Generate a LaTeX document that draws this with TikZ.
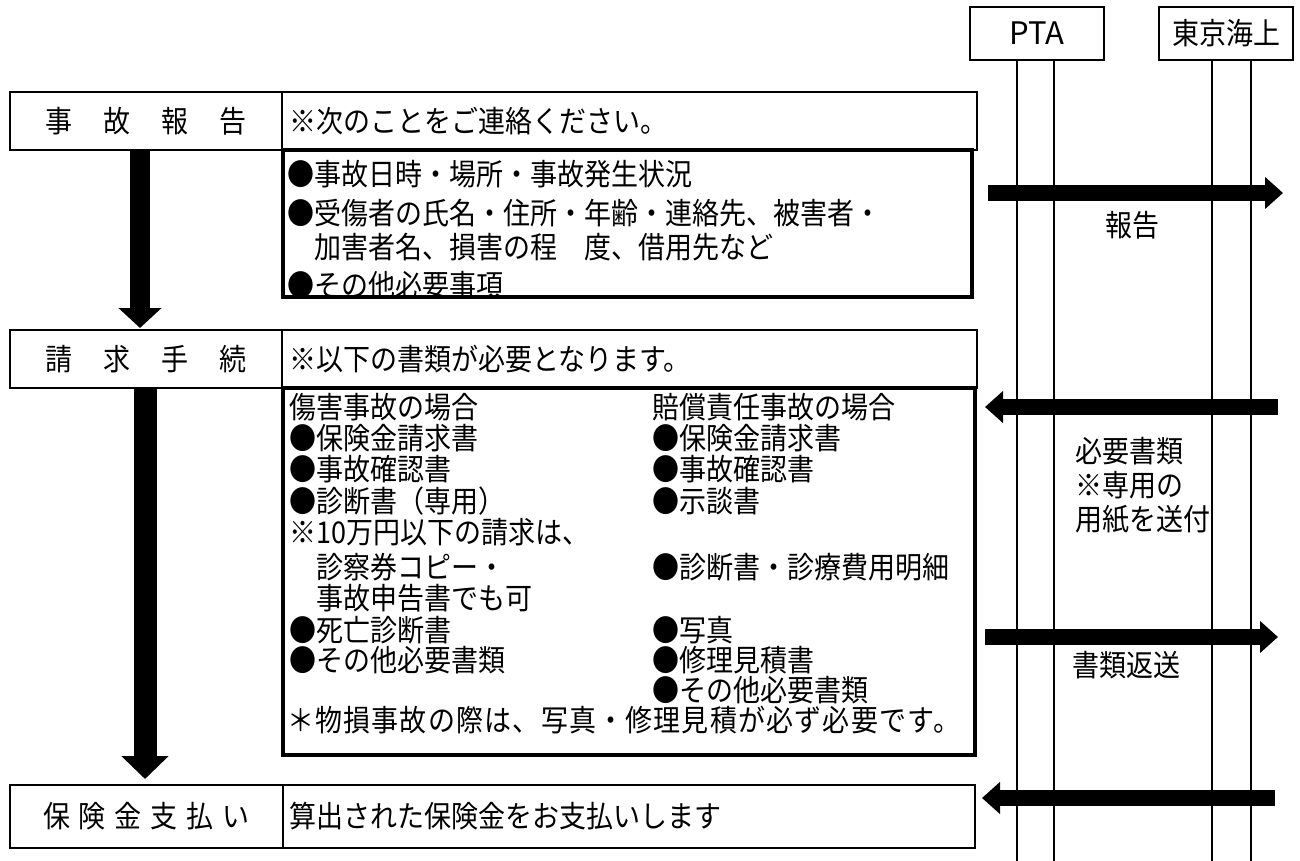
\documentclass[tikz,border=0pt]{standalone}
\usepackage{fontspec}
\setmainfont{Noto Sans CJK JP}[FakeStretch=0.9]
\newfontfamily\latinfont{Noto Sans CJK JP}
\usetikzlibrary{arrows.meta}
\newcommand\bul{\makebox[0.9em][l]{\addfontfeature{CharacterWidth=Full}●}}
\tikzset{
  box/.style={draw, line width=1.8pt, inner sep=0pt},
  thickbox/.style={draw, line width=3.5pt, inner sep=0pt},
  txt/.style={anchor=west, inner sep=0pt, font=\fontsize{30}{34}\selectfont},
  ctxt/.style={inner sep=0pt, font=\fontsize{30}{34}\selectfont},
  flowA/.style={line width=20pt, -{Triangle[width=42pt,length=20pt]}},
  flowB/.style={line width=23pt, -{Triangle[width=46pt,length=23pt]}},
  msg/.style={line width=16pt, -{Triangle[width=31pt,length=18pt]}},
  life/.style={line width=1.8pt},
}
\begin{document}
\begin{tikzpicture}[x=1pt,y=-1pt]
\useasboundingbox (0,0) rectangle (1300,861);

% ---- actors
\node[box, minimum width=134pt, minimum height=53pt, inner sep=0pt, font=\latinfont\fontsize{31}{34}\selectfont] (pta) at (1037,33.5) {PTA};
\node[box, minimum width=134pt, minimum height=53pt, ctxt] (tm) at (1226,33.5) {東京海上};
\coordinate (l1) at (1017,861);
\coordinate (l2) at (1054,861);
\coordinate (l3) at (1212,861);
\coordinate (l4) at (1251,861);
\draw[life] (pta.south -| l1) -- (l1);
\draw[life] (pta.south -| l2) -- (l2);
\draw[life] (tm.south -| l3) -- (l3);
\draw[life] (tm.south -| l4) -- (l4);

% ---- row 1
\node[box, minimum width=272pt, minimum height=58pt, ctxt] (t1) at (146,121)
  {事\hspace{31pt}故\hspace{31pt}報\hspace{31pt}告};
\node[box, minimum width=695pt, minimum height=58pt] (h1) at (629.5,121) {};
\node[txt] (h1t) at (289,121) {※次のことをご連絡ください。};
\node[thickbox, minimum width=689pt, minimum height=147pt] (c1) at (627.5,223.5) {};
\node[txt] (c1a) at (287,174) {\bul 事故日時・場所・事故発生状況};
\node[txt] (c1b) at (287,213) {\bul 受傷者の氏名・住所・年齢・連絡先、被害者・};
\node[txt] (c1c) at (287,247) {　加害者名、損害の程　度、借用先など};
\node[txt] (c1d) at (287,285) {\bul その他必要事項};

% ---- row 2
\node[box, minimum width=272pt, minimum height=58pt, ctxt] (t2) at (146,359)
  {請\hspace{31pt}求\hspace{31pt}手\hspace{31pt}続};
\node[box, minimum width=695pt, minimum height=58pt] (h2) at (629.5,359) {};
\node[txt] (h2t) at (289,359) {※以下の書類が必要となります。};
\node[thickbox, minimum width=692pt, minimum height=367pt] (c2) at (629,571.5) {};
\node[txt] (L1) at (289,407) {傷害事故の場合};
\node[txt] (L2) at (289,438) {\bul 保険金請求書};
\node[txt] (L3) at (289,469) {\bul 事故確認書};
\node[txt] (L4) at (289,501) {\bul 診断書（専用）};
\node[txt] (L5) at (289,532) {※10万円以下の請求は、};
\node[txt] (L6) at (289,567) {　診察券コピー・};
\node[txt] (L7) at (289,598) {　事故申告書でも可};
\node[txt] (L8) at (289,630) {\bul 死亡診断書};
\node[txt] (L9) at (289,660) {\bul その他必要書類};
\node[txt] (R1) at (652,407) {賠償責任事故の場合};
\node[txt] (R2) at (652,438) {\bul 保険金請求書};
\node[txt] (R3) at (652,469) {\bul 事故確認書};
\node[txt] (R4) at (652,501) {\bul 示談書};
\node[txt] (R5) at (652,567) {\bul 診断書・診療費用明細};
\node[txt] (R6) at (652,630) {\bul 写真};
\node[txt] (R7) at (652,660) {\bul 修理見積書};
\node[txt] (R8) at (652,690) {\bul その他必要書類};
\node[txt] (F1) at (287,720) {\addfontfeature{LetterSpace=4}＊物損事故の際は、写真・修理見積が必ず必要です。};

% ---- row 3
\node[box, minimum width=273pt, minimum height=63pt, ctxt] (t3) at (146.5,816.5)
  {保\hspace{9pt}険\hspace{9pt}金\hspace{9pt}支\hspace{9pt}払\hspace{9pt}い};
\node[box, minimum width=692pt, minimum height=63pt] (h3) at (629,816.5) {};
\node[txt] (h3t) at (289,816.5) {算出された保険金をお支払いします};

% ---- flow arrows
\coordinate (a1s) at (140,150);
\coordinate (a1e) at (140,328);
\coordinate (a2s) at (145,388);
\coordinate (a2e) at (145,779);
\draw[flowA] (a1s) -- (a1e);
\draw[flowB] (a2s) -- (a2e);

% ---- message arrows
\coordinate (m1s) at (988,193);
\coordinate (m1e) at (1283,193);
\coordinate (m2s) at (1278,407);
\coordinate (m2e) at (985,407);
\coordinate (m3s) at (985,637);
\coordinate (m3e) at (1278,637);
\coordinate (m4s) at (1275,798);
\coordinate (m4e) at (982,798);
\draw[msg] (m1s) -- (m1e);
\draw[msg] (m2s) -- (m2e);
\draw[msg] (m3s) -- (m3e);
\draw[msg] (m4s) -- (m4e);

% ---- message labels
\node[txt] (lb1) at (1105,225) {報告};
\node[txt] (lb2a) at (1075,451) {必要書類};
\node[txt] (lb2b) at (1075,485) {※専用の};
\node[txt] (lb2c) at (1075,519) {用紙を送付};
\node[txt] (lb3) at (1072,665) {書類返送};
\end{tikzpicture}
\end{document}
